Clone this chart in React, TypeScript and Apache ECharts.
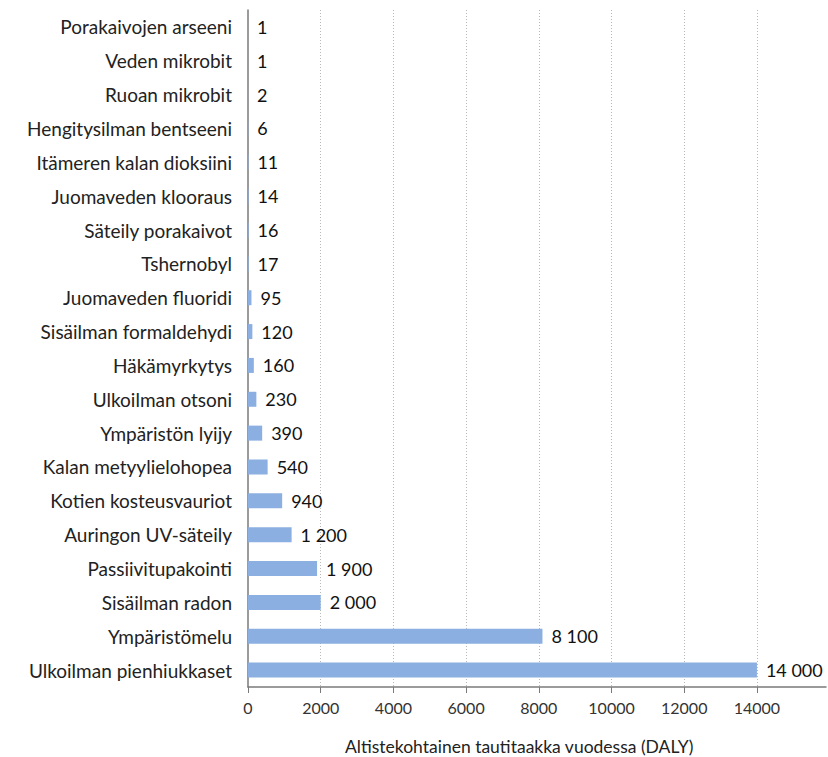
import React, { useEffect, useRef } from "react";
import * as echarts from "echarts";

const categories = [
  "Porakaivojen arseeni",
  "Veden mikrobit",
  "Ruoan mikrobit",
  "Hengitysilman bentseeni",
  "Itämeren kalan dioksiini",
  "Juomaveden klooraus",
  "Säteily porakaivot",
  "Tshernobyl",
  "Juomaveden fluoridi",
  "Sisäilman formaldehydi",
  "Häkämyrkytys",
  "Ulkoilman otsoni",
  "Ympäristön lyijy",
  "Kalan metyylielohopea",
  "Kotien kosteusvauriot",
  "Auringon UV-säteily",
  "Passiivitupakointi",
  "Sisäilman radon",
  "Ympäristömelu",
  "Ulkoilman pienhiukkaset",
];

const values = [1, 1, 2, 6, 11, 14, 16, 17, 95, 120, 160, 230, 390, 540, 940, 1200, 1900, 2000, 8100, 14000];

const tickValues = [0, 2000, 4000, 6000, 8000, 10000, 12000, 14000];
const gridValues = [2000, 4000, 6000, 8000, 10000, 12000, 14000];
const axisTitle = "Altistekohtainen tautitaakka vuodessa (DALY)";

const FONT = "Lato, 'Open Sans', sans-serif";

function fmt(v: number): string {
  return String(v).replace(/\B(?=(\d{3})+(?!\d))/g, " ");
}

export default function App() {
  const ref = useRef<HTMLDivElement>(null);
  useEffect(() => {
    if (!ref.current) return;
    const chart = echarts.init(ref.current, undefined, { renderer: "svg" });
    chart.setOption({
      animation: false,
      backgroundColor: "#ffffff",
      grid: { left: 248, right: 2, top: 10, bottom: 70, containLabel: false },
      xAxis: {
        type: "value",
        min: 0,
        max: 15900,
        axisLine: { show: true, lineStyle: { color: "#7a7a7a", width: 1.5 } },
        axisTick: { show: true, length: 6, customValues: tickValues, lineStyle: { color: "#7a7a7a" } },
        axisLabel: {
          customValues: tickValues,
          formatter: (v: number) => String(v),
          color: "#333",
          fontFamily: FONT,
          fontSize: 16,
          margin: 12,
        },
        splitLine: { show: false },
      },
      yAxis: {
        type: "category",
        data: categories,
        inverse: true,
        axisLine: { show: true, lineStyle: { color: "#7a7a7a", width: 1.5 } },
        axisTick: { show: false },
        axisLabel: { color: "#222", fontFamily: FONT, fontSize: 19, margin: 16 },
      },
      graphic: [
        {
          type: "text",
          left: 345,
          top: 737,
          style: { text: axisTitle, fill: "#222", font: `17.5px ${FONT}` },
        },
      ],
      series: [
        {
          type: "bar",
          data: values,
          barWidth: 15,
          itemStyle: { color: "#8aafe0" },
          label: {
            show: true,
            position: "right",
            distance: 9,
            color: "#111",
            fontFamily: FONT,
            fontSize: 18,
            formatter: (p: any) => fmt(p.value),
          },
          markLine: {
            silent: true,
            symbol: "none",
            label: { show: false },
            lineStyle: { color: "#b8b8b8", type: [1, 2], width: 1 },
            data: gridValues.map((v) => ({ xAxis: v })),
            z: 0,
          },
        },
      ],
    });
    return () => chart.dispose();
  }, []);
  return (
    <div
      ref={ref}
      style={{ position: "fixed", left: 0, top: 0, width: 828, height: 757 }}
    />
  );
}
